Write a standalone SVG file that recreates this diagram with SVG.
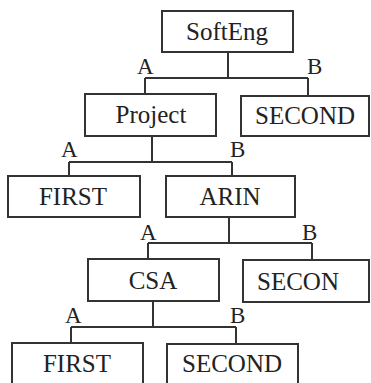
<svg xmlns="http://www.w3.org/2000/svg" width="371" height="383" viewBox="0 0 371 383">
<style>
.box{fill:#fff;stroke:#333;stroke-width:2}
.t{font-family:"Liberation Serif","Times New Roman",serif;font-size:25px;fill:#222;text-anchor:middle}
.l{font-family:"Liberation Serif","Times New Roman",serif;font-size:23px;fill:#222}
.c{fill:none;stroke:#333;stroke-width:2}
</style>
<rect width="371" height="383" fill="#fff"/>
<g id="connectors">
<path class="c" d="M228 52V78M145 78H308M145 78V94M308 78V96"/>
<path class="c" d="M152 136V162M69 162H232M69 162V176M232 162V176"/>
<path class="c" d="M229 217V243M148 243H312M148 243V259M312 243V260"/>
<path class="c" d="M153 301V327M71 327H236M71 327V343M236 327V344"/>
<text class="l" x="137" y="74">A</text>
<text class="l" x="307" y="74">B</text>
<text class="l" x="61" y="157">A</text>
<text class="l" x="230" y="157">B</text>
<text class="l" x="140" y="240">A</text>
<text class="l" x="302" y="240">B</text>
<text class="l" x="65" y="323">A</text>
<text class="l" x="230" y="323">B</text>
</g>
<g id="softeng"><rect class="box" x="162" y="11" width="131" height="41"/><text class="t" x="227" y="40">SoftEng</text></g>
<g id="project"><rect class="box" x="85" y="94" width="131" height="42"/><text class="t" x="151" y="123">Project</text></g>
<g id="second1"><rect class="box" x="241" y="96" width="128" height="40"/><text class="t" x="305" y="124">SECOND</text></g>
<g id="first1"><rect class="box" x="8" y="176" width="132" height="41"/><text class="t" x="73" y="205">FIRST</text></g>
<g id="arin"><rect class="box" x="166" y="176" width="129" height="41"/><text class="t" x="230" y="205">ARIN</text></g>
<g id="csa"><rect class="box" x="88" y="259" width="131" height="42"/><text class="t" x="153" y="289">CSA</text></g>
<g id="secon"><rect class="box" x="243" y="260" width="126" height="42"/><text class="t" x="298" y="290">SECON</text></g>
<g id="first2"><rect class="box" x="12" y="343" width="131" height="50"/><text class="t" x="77" y="372">FIRST</text></g>
<g id="second2"><rect class="box" x="167" y="344" width="131" height="50"/><text class="t" x="232" y="372">SECOND</text></g>
</svg>
